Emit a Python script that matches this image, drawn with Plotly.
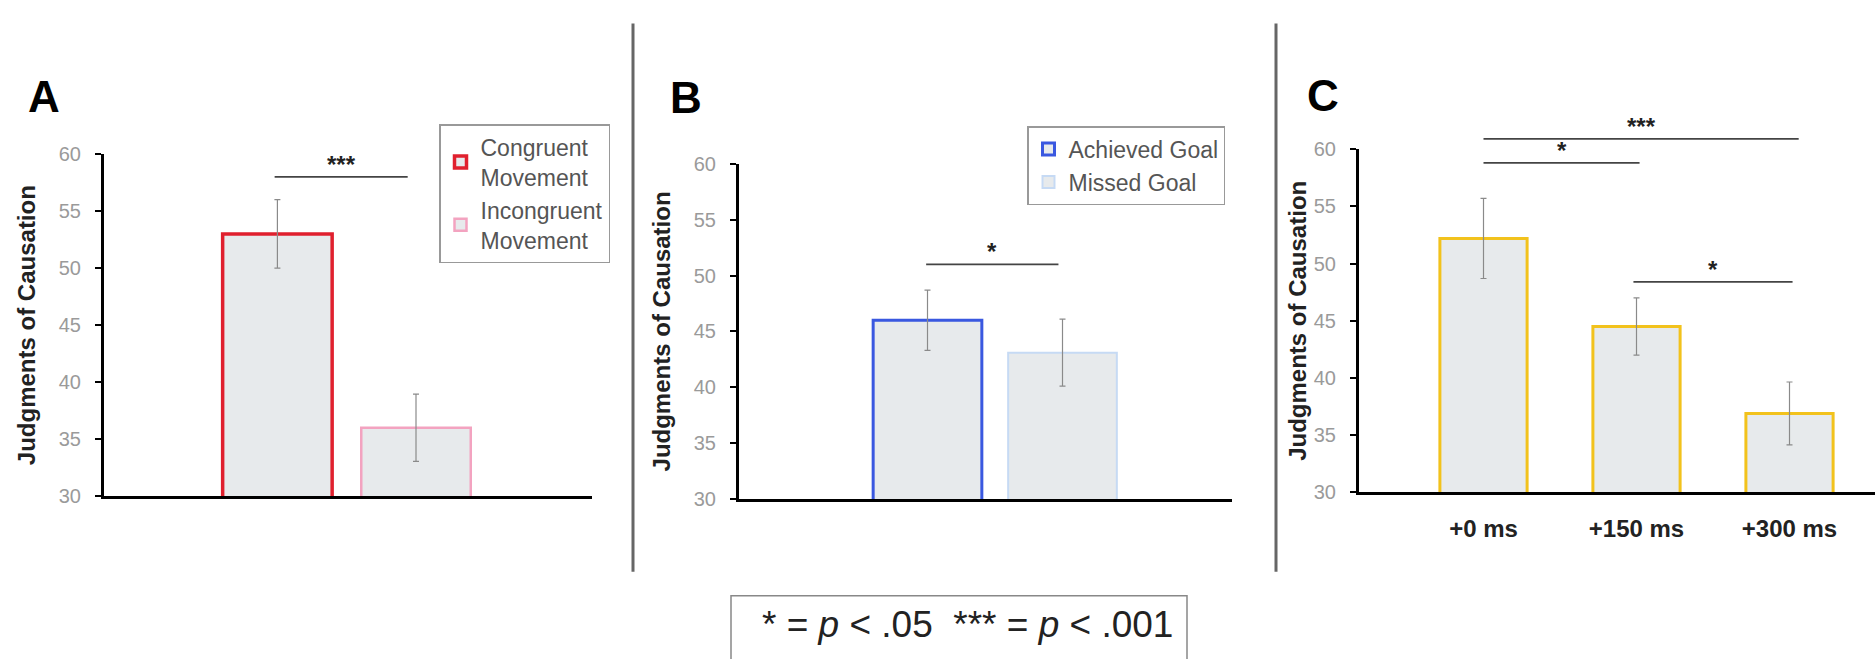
import plotly.graph_objects as go

# ---------------- data ----------------
a_names = ["Congruent<br>Movement", "Incongruent<br>Movement"]
a_values = [53.0, 36.0]
a_errors = [3.0, 2.95]

b_names = ["Achieved Goal", "Missed Goal"]
b_values = [46.0, 43.1]
b_errors = [2.7, 3.0]

c_categories = ["+0 ms", "+150 ms", "+300 ms"]
c_values = [52.2, 44.5, 36.9]
c_errors = [3.5, 2.5, 2.75]

y_ticks = [30, 35, 40, 45, 50, 55, 60]
y_title = "Judgments of Causation"

# significance brackets: (from bar position, to bar position, level, label)
a_sig = [(-0.02, 0.94, 58.0, "***")]
b_sig = [(-0.01, 0.97, 51.0, "*")]
c_sig = [(0.0, 2.06, 60.9, "***"), (0.0, 1.02, 58.8, "*"), (0.98, 2.02, 48.4, "*")]

legend_text = "* = <i>p</i> < .05  *** = <i>p</i> < .001"

# ---------------- style / layout (pixels) ----------------
W, H = 1875, 659
FONT = "Liberation Sans, Arial, sans-serif"
fill = "#e7eaec"
a_colors = ["#e0202e", "#f3a3c0"]
a_lw = [3.5, 2.5]
b_colors = ["#3a58e0", "#c6daf4"]
b_lw = [3.0, 2.0]
c_color = "#f2c21c"
err_color = "#8a8a8a"

# panel geometry in pixels: axis left/right, first-bar centre, bar spacing, y top/bottom
geo = {
    "A": dict(l=104, r=592, c0=277.4, sp=138.6, t=148, b=502),
    "B": dict(l=739, r=1232, c0=927.5, sp=135.0, t=158, b=505),
    "C": dict(l=1359, r=1875, c0=1483.5, sp=153.0, t=143, b=498),
}

def px_x(v):
    return v / W

def px_y(v):
    return 1 - v / H

def xdom(g):
    return [px_x(g["l"]), min(1.0, px_x(g["r"]))]

def xrng(g):
    return [(g["l"] - g["c0"]) / g["sp"], (g["r"] - g["c0"]) / g["sp"]]

def ydom(g):
    return [px_y(g["b"]), px_y(g["t"])]

fig = go.Figure()

for i in range(2):
    fig.add_trace(go.Bar(
        x=[a_names[i]], y=[a_values[i]], name=a_names[i], width=0.79,
        marker=dict(color=fill, line=dict(color=a_colors[i], width=a_lw[i])),
        error_y=dict(type="data", array=[a_errors[i]], color=err_color, thickness=1.2, width=3),
        xaxis="x", yaxis="y", legend="legend"))

for i in range(2):
    fig.add_trace(go.Bar(
        x=[b_names[i]], y=[b_values[i]], name=b_names[i], width=0.805,
        marker=dict(color=fill, line=dict(color=b_colors[i], width=b_lw[i])),
        error_y=dict(type="data", array=[b_errors[i]], color=err_color, thickness=1.2, width=3),
        xaxis="x2", yaxis="y2", legend="legend2"))

fig.add_trace(go.Bar(
    x=c_categories, y=c_values, width=0.57, showlegend=False,
    marker=dict(color=fill, line=dict(color=c_color, width=3)),
    error_y=dict(type="data", array=c_errors, color=err_color, thickness=1.2, width=3),
    xaxis="x3", yaxis="y3"))

yaxis_common = dict(
    range=[30, 60], tickvals=y_ticks, ticks="outside", ticklen=6, tickwidth=2,
    tickcolor="black", showline=True, linecolor="black", linewidth=3,
    showgrid=False, zeroline=False, ticklabelstandoff=10,
    tickfont=dict(family=FONT, size=20, color="#9a9a9a"),
)
xaxis_common = dict(showline=True, linecolor="black", linewidth=3, showgrid=False,
                    zeroline=False, ticks="", fixedrange=True)

def ytitle(standoff):
    return dict(text="<b>%s</b>" % y_title, standoff=standoff,
                font=dict(family=FONT, size=24, color="#222"))

gA, gB, gC = geo["A"], geo["B"], geo["C"]
layout = dict(
    width=W, height=H, margin=dict(l=0, r=0, t=0, b=0),
    paper_bgcolor="white", plot_bgcolor="white", barmode="overlay",
    font=dict(family=FONT),
    xaxis=dict(domain=xdom(gA), range=xrng(gA), showticklabels=False, anchor="y",
               **xaxis_common),
    yaxis=dict(domain=ydom(gA), anchor="x", title=ytitle(17), **yaxis_common),
    xaxis2=dict(domain=xdom(gB), range=xrng(gB), showticklabels=False, anchor="y2",
                **xaxis_common),
    yaxis2=dict(domain=ydom(gB), anchor="x2", title=ytitle(17), **yaxis_common),
    xaxis3=dict(domain=xdom(gC), range=xrng(gC), anchor="y3", ticklabelstandoff=13,
                tickfont=dict(family=FONT, size=24, color="#222", weight="bold"),
                **xaxis_common),
    yaxis3=dict(domain=ydom(gC), anchor="x3", title=ytitle(1), **yaxis_common),
    legend=dict(x=px_x(610), xanchor="right", y=px_y(117), yanchor="top",
                bordercolor="#999", borderwidth=1.5, bgcolor="white",
                font=dict(family=FONT, size=23, color="#555"),
                tracegroupgap=0, itemwidth=30),
    legend2=dict(x=px_x(1225), xanchor="right", y=px_y(119), yanchor="top",
                 bordercolor="#999", borderwidth=1.5, bgcolor="white",
                 font=dict(family=FONT, size=23, color="#555"),
                 tracegroupgap=0, itemwidth=30),
)
fig.update_layout(**layout)

shapes = []
annotations = []

def add_sig(sigs, xa, ya):
    yr = fig.layout[ya.replace("y", "yaxis")].range
    for x0, x1, lvl, lab in sigs:
        yd = (lvl - yr[0]) / (yr[1] - yr[0])
        shapes.append(dict(type="line", xref=xa, yref=ya + " domain", x0=x0, x1=x1,
                           y0=yd, y1=yd, line=dict(color="#444", width=1.8)))
        annotations.append(dict(text="<b>%s</b>" % lab, xref=xa, yref=ya + " domain",
                                x=(x0 + x1) / 2, y=yd, xanchor="center", yanchor="bottom",
                                yshift=-3, showarrow=False,
                                font=dict(family=FONT, size=24, color="#222")))

add_sig(a_sig, "x", "y")
add_sig(b_sig, "x2", "y2")
add_sig(c_sig, "x3", "y3")

# panel dividers
for xp in [633, 1276]:
    shapes.append(dict(type="line", xref="paper", yref="paper", x0=px_x(xp), x1=px_x(xp),
                       y0=px_y(13), y1=px_y(580), line=dict(color="#666", width=3)))

# bottom key box
shapes.append(dict(type="rect", xref="paper", yref="paper", x0=px_x(731), x1=px_x(1187),
                   y0=px_y(605), y1=-0.05, line=dict(color="#888", width=1.5)))
annotations.append(dict(text=legend_text, xref="paper", yref="paper", x=px_x(967),
                        y=px_y(635), xanchor="center", yanchor="middle", showarrow=False,
                        font=dict(family=FONT, size=37, color="#222")))

# panel letters
for lab, xp, yp in [("A", 44, 88), ("B", 686, 89), ("C", 1323, 87)]:
    annotations.append(dict(text="<b>%s</b>" % lab, xref="paper", yref="paper",
                            x=px_x(xp), y=px_y(yp), xanchor="center", yanchor="middle",
                            showarrow=False,
                            font=dict(family=FONT, size=44, color="black")))

fig.update_layout(shapes=shapes, annotations=annotations)
fig.write_html("out.html", config={"displayModeBar": False},
               post_script="document.body.style.margin='0px'; document.body.style.overflow='hidden';")
